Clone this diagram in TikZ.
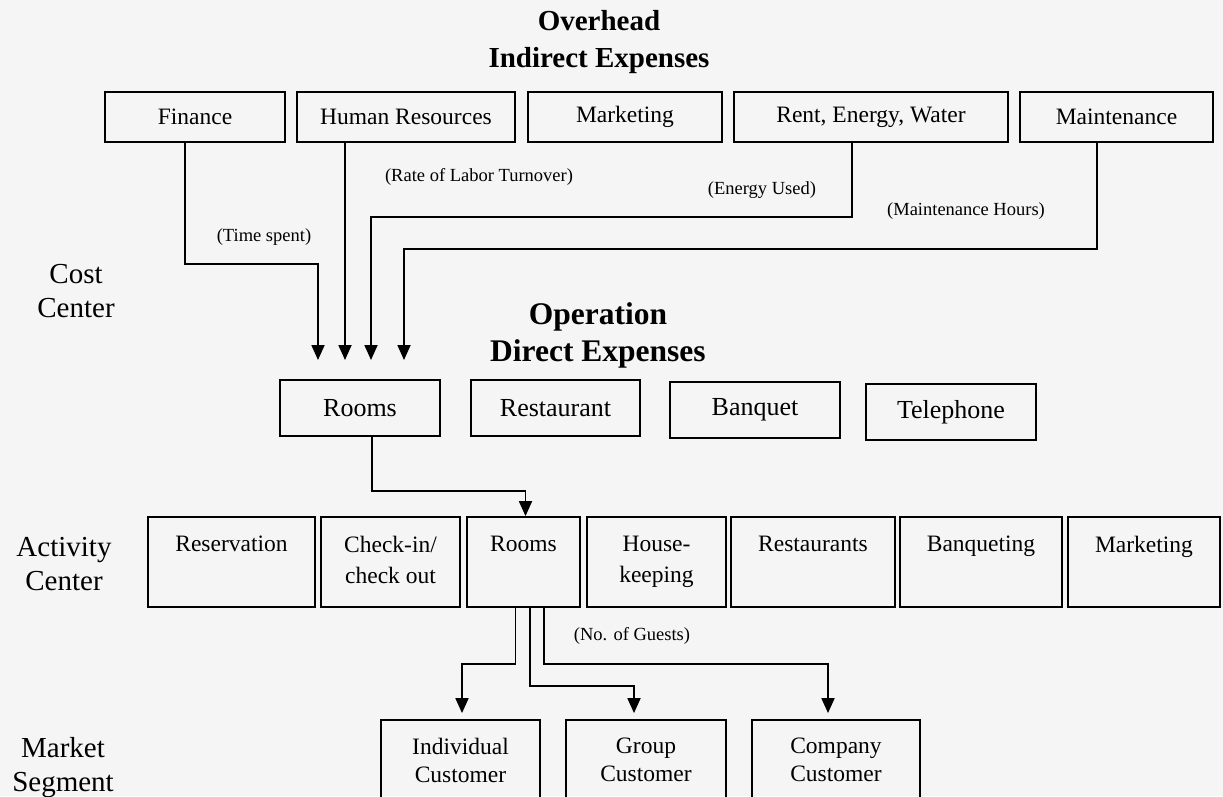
\documentclass[tikz,border=0pt]{standalone}
\usepackage{fontspec}
\setmainfont{Liberation Serif}
\usetikzlibrary{arrows.meta,calc}
\begin{document}
\begin{tikzpicture}[x=1pt,y=-1pt,
 box/.style={draw, line width=1.8pt, inner sep=0pt, align=center, font=\fontsize{23.5}{31}\selectfont},
 bigbox/.style={box, font=\fontsize{26}{30}\selectfont},
 arr/.style={line width=1.8pt, -{Triangle[width=13pt,length=15pt]}},
 lbl/.style={font=\fontsize{18.5}{20}\selectfont},
 side/.style={font=\fontsize{29}{34}\selectfont, align=center},
 title/.style={font=\bfseries\fontsize{29}{37}\selectfont, align=center},
 title2/.style={font=\bfseries\fontsize{31.5}{37}\selectfont, align=center}]
\fill[black!4] (0,0) rectangle (1223,796);
\useasboundingbox (0,0) rectangle (1223,796);
\begin{scope}
\clip (0,0) rectangle (1223,796);
% titles
\node[title] (t1) at (599,42) {Overhead\\Indirect Expenses};
\node[title2] (t2) at (598,335) {Operation\\Direct Expenses};
% side labels
\node[side] (s1) at (76,291) {Cost\\Center};
\node[side] (s2) at (64,564) {Activity\\Center};
\node[side] (s3) at (63,768) {Market\\Segment};
% row 1
\node[box, minimum width=180pt, minimum height=50pt] (fin) at (195,117) {Finance};
\node[box, minimum width=218pt, minimum height=50pt] (hr) at (406,117) {Human Resources};
\node[box, minimum width=194pt, minimum height=50pt] (mkt) at (625,117) {Marketing};
\node[box, minimum width=274pt, minimum height=50pt] (rent) at (871,117) {Rent, Energy, Water};
\node[box, minimum width=193pt, minimum height=50pt] (mnt) at (1116.5,117) {Maintenance};
% row 2
\node[bigbox, minimum width=160pt, minimum height=56pt] (rooms) at (360,408) {Rooms};
\node[bigbox, minimum width=169pt, minimum height=56pt] (rest) at (555.5,408) {Restaurant};
\node[bigbox, minimum width=170pt, minimum height=56pt] (banq) at (755,410) {Banquet};
\node[bigbox, minimum width=170pt, minimum height=56pt] (tel) at (951,412) {Telephone};
% row 3
\node[box, minimum width=167pt, minimum height=90pt] (res) at (231.5,562) {Reservation\\\vphantom{keeping}};
\node[box, minimum width=139pt, minimum height=90pt] (chk) at (390.5,562) {Check-in/\\check out\vphantom{g}};
\node[box, minimum width=113pt, minimum height=90pt] (rm3) at (523.5,562) {Rooms\\\vphantom{keeping}};
\node[box, minimum width=139pt, minimum height=90pt] (hk) at (656.5,562) {House-\\keeping};
\node[box, minimum width=164pt, minimum height=90pt] (rts) at (813,562) {Restaurants\\\vphantom{keeping}};
\node[box, minimum width=162pt, minimum height=90pt] (bqt) at (981,562) {Banqueting\\\vphantom{keeping}};
\node[box, minimum width=152pt, minimum height=90pt] (mk3) at (1144,562) {Marketing\\\vphantom{keeping}};
% row 4
\node[box, font=\fontsize{23.5}{28}\selectfont, minimum width=159pt, minimum height=80pt] (ind) at (460.5,760) {Individual\\Customer};
\node[box, font=\fontsize{23.5}{28}\selectfont, minimum width=160pt, minimum height=80pt] (grp) at (646,760) {Group\\Customer};
\node[box, font=\fontsize{23.5}{28}\selectfont, minimum width=168pt, minimum height=80pt] (cmp) at (836,760) {Company\\Customer};
% labels
\node[lbl] (l1) at (264,237) {(Time spent)};
\node[lbl] (l2) at (479,177) {(Rate of Labor Turnover)};
\node[lbl] (l3) at (762,190) {(Energy Used)};
\node[lbl] (l4) at (966,211) {(Maintenance Hours)};
\node[lbl] (l5) at (632,636) {(No. of Guests)};
% arrow end points
\coordinate (a1) at (318,360);
\coordinate (a2) at (345,360);
\coordinate (a3) at (371,360);
\coordinate (a4) at (404,360);
% connectors
\draw[arr] ([xshift=-10pt]fin.south) -- ++(0,121) -| (a1);
\draw[arr] (hr.south -| a2) -- (a2);
\draw[arr] ([xshift=-19pt]rent.south) -- ++(0,74) -| (a3);
\draw[arr] ([xshift=-19.5pt]mnt.south) -- ++(0,106) -| (a4);
\draw[arr] ([xshift=12pt]rooms.south) -- ++(0,54) -| ([xshift=2pt]rm3.north);
\draw[arr, shorten >=6pt] ([xshift=-8pt]rm3.south) -- ++(0,56) -| ([xshift=1.5pt]ind.north);
\draw[arr, shorten >=6pt] ([xshift=6.5pt]rm3.south) -- ++(0,78) -| ([xshift=-12pt]grp.north);
\draw[arr, shorten >=6pt] ([xshift=20.5pt]rm3.south) -- ++(0,56) -| ([xshift=-8pt]cmp.north);
\end{scope}
\end{tikzpicture}
\end{document}
